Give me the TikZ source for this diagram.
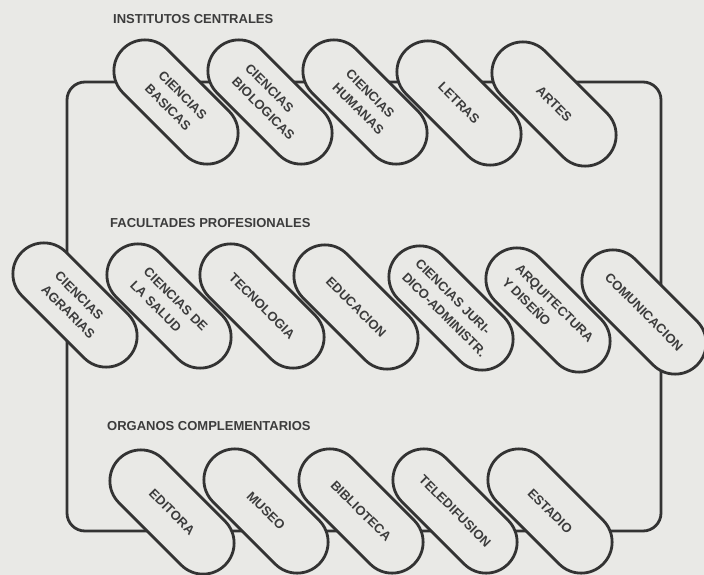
\documentclass[tikz,border=0pt]{standalone}
\usepackage{fontspec}
\setmainfont{Liberation Sans}
\usepackage{xcolor}
\usepackage{tikz}
\usetikzlibrary{shapes.misc}
\definecolor{paper}{HTML}{E9E9E6}
\definecolor{ink}{HTML}{333333}
\definecolor{inktext}{HTML}{3C3C3C}

\begin{document}
\begin{tikzpicture}[
  x=1pt, y=-1pt,
  pill/.style={rounded rectangle, draw=ink, fill=paper, line width=2.8pt,
    minimum width=150pt, minimum height=62pt, inner sep=0pt, rotate=-45,
    align=left, text=inktext, font=\fontsize{13}{19}\selectfont\bfseries},
  grp/.style={anchor=west, inner sep=0pt, text=inktext,
    font=\fontsize{13}{15}\selectfont\bfseries},
  frame/.style={draw=ink, line width=2.8pt, rounded corners=18pt},
]
  \useasboundingbox[fill=paper] (0,0) rectangle (704,575);

  \draw[frame] (67,82) rectangle (661,531);

  % institutos centrales
  \node[grp] (ic) at (113,19) {INSTITUTOS CENTRALES};
  \node[pill] (ic1) at (176,102) {CIENCIAS\\BASICAS};
  \node[pill] (ic2) at (270,102) {CIENCIAS\\BIOLOGICAS};
  \node[pill] (ic3) at (365,102) {CIENCIAS\\HUMANAS};
  \node[pill] (ic4) at (459,103) {LETRAS};
  \node[pill] (ic5) at (554,104) {ARTES};

  % facultades profesionales
  \node[grp] (fp) at (110,223) {FACULTADES PROFESIONALES};
  \node[pill] (fp1) at (75,305) {CIENCIAS\\AGRARIAS};
  \node[pill] (fp2) at (169,306) {CIENCIAS DE\\LA SALUD};
  \node[pill] (fp3) at (262,306) {TECNOLOGIA};
  \node[pill] (fp4) at (356,307) {EDUCACION};
  \node[pill] (fp5) at (451,308) {CIENCIAS JURI-\\DICO-ADMINISTR.};
  \node[pill] (fp6) at (548,310) {ARQUITECTURA\\Y DISEÑO};
  \node[pill] (fp7) at (644,312) {COMUNICACION};

  % organos complementarios
  \node[grp] (oc) at (107,426) {ORGANOS COMPLEMENTARIOS};
  \node[pill] (oc1) at (172,512) {EDITORA};
  \node[pill] (oc2) at (266,511) {MUSEO};
  \node[pill] (oc3) at (361,511) {BIBLIOTECA};
  \node[pill] (oc4) at (455,511) {TELEDIFUSION};
  \node[pill] (oc5) at (550,511) {ESTADIO};
\end{tikzpicture}
\end{document}
